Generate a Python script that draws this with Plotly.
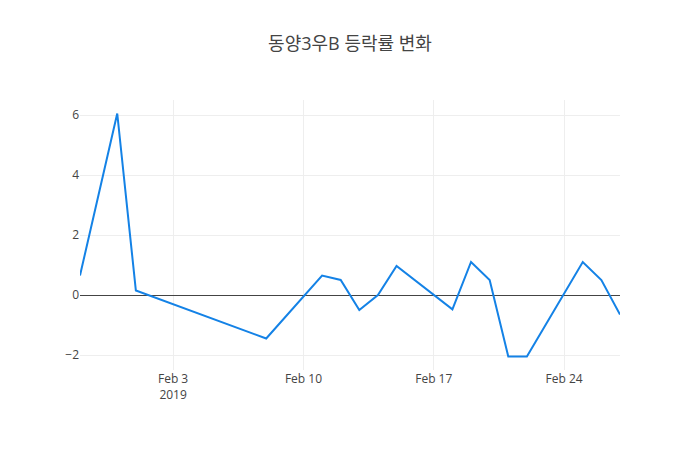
import plotly.graph_objects as go

# daily change rate (%) of 동양3우B
dates = ["2019-01-29", "2019-01-31", "2019-02-01", "2019-02-08", "2019-02-11",
         "2019-02-12", "2019-02-13", "2019-02-14", "2019-02-15", "2019-02-18",
         "2019-02-19", "2019-02-20", "2019-02-21", "2019-02-22", "2019-02-25",
         "2019-02-26", "2019-02-27"]
rates = [0.65, 6.05, 0.15, -1.45, 0.65,
         0.5, -0.5, 0.0, 0.97, -0.48,
         1.1, 0.5, -2.05, -2.05, 1.1,
         0.5, -0.65]

fig = go.Figure()
fig.add_trace(go.Scatter(x=dates, y=rates, mode='lines',
                         line=dict(color='#1482e6', width=2)))

# page body adds an 8px offset, so margins are shifted to compensate
fig.update_layout(template='none',
                  width=700, height=450,
                  margin=dict(l=72, r=88, t=92, b=88),
                  title=dict(text='동양3우B 등락률 변화', x=342 / 700, xanchor='center',
                             y=1 - 36 / 450, yanchor='middle',
                             font=dict(size=18, color='#444')),
                  font=dict(family='Open Sans, Noto Sans CJK KR', color='#444'),
                  showlegend=False)
fig.update_xaxes(showgrid=True, gridcolor='#eee', zeroline=False)
fig.update_yaxes(showgrid=True, gridcolor='#eee', zeroline=True,
                 zerolinecolor='#444', zerolinewidth=1)

fig.write_html("out.html")
